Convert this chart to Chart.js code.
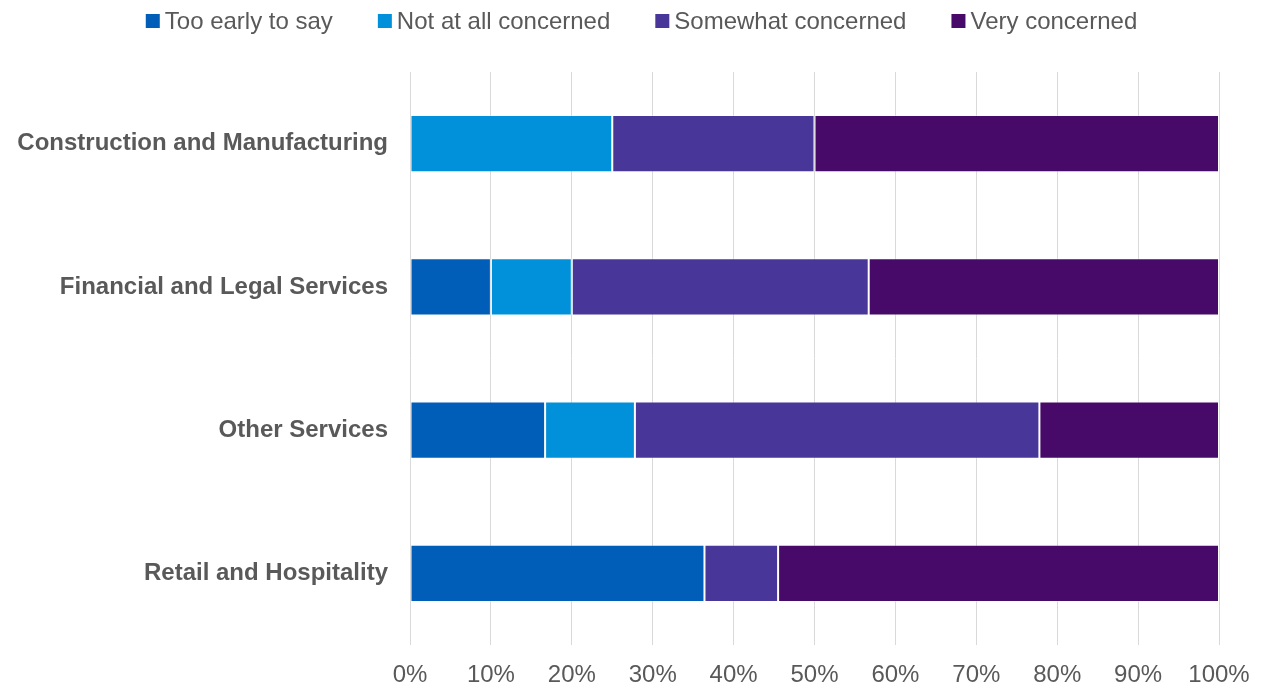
<!DOCTYPE html>
<html>
<head>
<meta charset="utf-8">
<script src="https://cdn.jsdelivr.net/npm/chart.js@4/dist/chart.umd.min.js"></script>
<style>
  html, body { margin: 0; padding: 0; background: #ffffff; }
  #wrap { width: 1263px; height: 687px; }
</style>
</head>
<body>
<div id="wrap"><canvas id="chart" width="1263" height="687"></canvas></div>
<script>
// Sectors (rows, top to bottom)
const sectors = [
  'Construction and Manufacturing',
  'Financial and Legal Services',
  'Other Services',
  'Retail and Hospitality'
];

// Share of respondents per answer, in percent
const tooEarlyToSay      = [0,  10,   16.7, 36.4];
const notAtAllConcerned  = [25, 10,   11.1, 0];
const somewhatConcerned  = [25, 36.7, 50,   9.1];
const veryConcerned      = [50, 43.3, 22.2, 54.5];

const seriesNames  = ['Too early to say', 'Not at all concerned', 'Somewhat concerned', 'Very concerned'];
const seriesValues = [tooEarlyToSay, notAtAllConcerned, somewhatConcerned, veryConcerned];
const seriesColors = ['#005EB8', '#0091DA', '#483698', '#470A68'];

// Percentage axis ticks
const xTickValues = [0, 10, 20, 30, 40, 50, 60, 70, 80, 90, 100];

const LIGHT = '"Liberation Sans", Arial, sans-serif';
const TEXT_GREY = '#595959';

// Legend row drawn across the top of the canvas
const topLegend = {
  id: 'topLegend',
  afterDraw(chart) {
    const ctx = chart.ctx;
    const box = 14, gapText = 5, gapItem = 45, fontSize = 24, cy = 21;
    ctx.save();
    ctx.font = fontSize + 'px ' + LIGHT;
    ctx.textBaseline = 'middle';
    const items = chart.data.datasets.map(ds => ({
      label: ds.label,
      color: ds.backgroundColor,
      w: box + gapText + ctx.measureText(ds.label).width
    }));
    const total = items.reduce((s, it) => s + it.w, 0) + gapItem * (items.length - 1);
    let x = 641.5 - total / 2;
    items.forEach(it => {
      ctx.fillStyle = it.color;
      ctx.fillRect(x, cy - box / 2, box, box);
      ctx.fillStyle = TEXT_GREY;
      ctx.textAlign = 'left';
      ctx.fillText(it.label, x + box + gapText, cy + 1);
      x += it.w + gapItem;
    });
    ctx.restore();
  }
};

const datasets = seriesNames.map((name, i) => ({
  label: name,
  data: seriesValues[i],
  backgroundColor: seriesColors[i],
  borderColor: 'rgba(255,255,255,0.3)',
  borderWidth: 1,
  borderSkipped: false,
  barPercentage: 0.4,
  categoryPercentage: 1.0
}));

new Chart(document.getElementById('chart'), {
  type: 'bar',
  data: { labels: sectors, datasets },
  plugins: [topLegend],
  options: {
    indexAxis: 'y',
    responsive: false,
    animation: false,
    layout: { padding: { top: 72, right: 44, bottom: 0, left: 0 } },
    plugins: {
      legend: { display: false },
      tooltip: { enabled: false }
    },
    scales: {
      x: {
        stacked: true,
        min: 0,
        max: 100,
        afterBuildTicks(scale) {
          scale.ticks = xTickValues.map(v => ({ value: v }));
        },
        afterFit(scale) {
          scale.height = 42;
          scale.paddingLeft = 0;
          scale.paddingRight = 0;
        },
        grid: { color: '#d9d9d9', lineWidth: 1, drawTicks: false },
        border: { display: false },
        ticks: {
          padding: 16,
          color: TEXT_GREY,
          font: { family: LIGHT, size: 24 },
          callback: v => v + '%'
        }
      },
      y: {
        stacked: true,
        afterFit(scale) { scale.width = 410; },
        grid: { display: false, drawTicks: false },
        border: { display: false },
        ticks: {
          padding: 22,
          color: TEXT_GREY,
          font: { family: LIGHT, size: 24, weight: 'bold' }
        }
      }
    }
  }
});
</script>
</body>
</html>
